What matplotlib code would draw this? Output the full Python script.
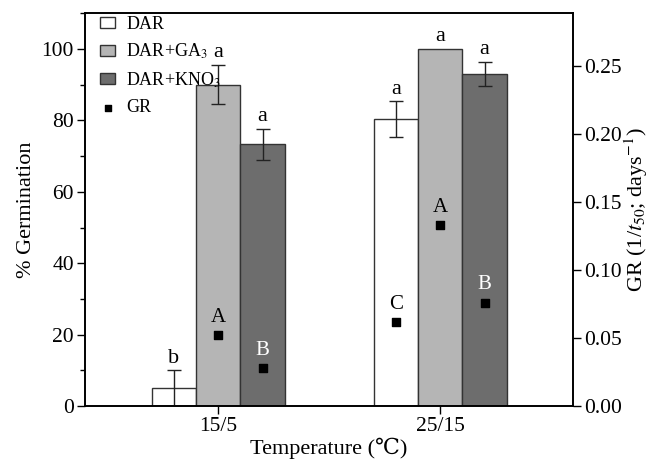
import numpy as np
import matplotlib.pyplot as plt
from matplotlib.ticker import MultipleLocator

plt.rcParams['font.family'] = ['Liberation Serif', 'DejaVu Serif']
plt.rcParams['mathtext.fontset'] = 'stix'

temps = ['15/5', '25/15']
treatments = ['DAR', 'DAR+GA$_3$', 'DAR+KNO$_3$']
germ = [[5, 80.3], [90, 100], [73.3, 93]]
germ_err = [[5, 5], [5.5, 0], [4.3, 3.4]]
germ_letters = [['b', 'a'], ['a', 'a'], ['a', 'a']]
gr = [[np.nan, 0.062], [0.052, 0.133], [0.028, 0.076]]
gr_letters = [['', 'C'], ['A', 'A'], ['B', 'B']]
gr_letter_colors = ['black', 'black', 'white']

colors = ['white', '#b5b5b5', '#6d6d6d']
x = np.arange(1, len(temps) + 1)
w = 0.2
offsets = [-w, 0, w]

fig = plt.figure(figsize=(6.59, 4.69), dpi=100)
ax = fig.add_axes([0.129, 0.134, 0.741, 0.838])
ax2 = ax.twinx()

for i in range(3):
    xs = x + offsets[i]
    ax.bar(xs, germ[i], w, color=colors[i], edgecolor='#333333', linewidth=1,
           label=treatments[i], zorder=2)
    errs = np.array(germ_err[i])
    m = errs > 0
    ax.errorbar(xs[m], np.array(germ[i])[m], yerr=errs[m], fmt='none',
                ecolor='#222222', elinewidth=1, capsize=5, capthick=1, zorder=3)
    for j in range(len(temps)):
        ax.text(xs[j], germ[i][j] + germ_err[i][j] + 0.8, germ_letters[i][j],
                ha='center', va='bottom', fontsize=16)
        if gr_letters[i][j]:
            ax2.text(xs[j], gr[i][j] + 0.006, gr_letters[i][j], ha='center',
                     va='bottom', fontsize=15, color=gr_letter_colors[i])
    ax2.scatter(xs, gr[i], marker='s', s=28, color='black', zorder=4,
                label='GR' if i == 0 else None)

ax.set_xlim(0.4, 2.6)
ax.set_ylim(0, 110)
ax2.set_ylim(0, 0.2885)
ax.set_xticks(x)
ax.set_xticklabels(temps)
ax.yaxis.set_major_locator(MultipleLocator(20))
ax.yaxis.set_minor_locator(MultipleLocator(10))
ax2.yaxis.set_major_locator(MultipleLocator(0.05))
ax2.yaxis.set_major_formatter(plt.FormatStrFormatter('%.2f'))

ax.tick_params(axis='both', which='major', direction='out', length=6, width=1,
               labelsize=15.5, pad=2)
ax.tick_params(axis='y', which='minor', direction='out', length=3.5, width=1)
ax2.tick_params(axis='y', which='major', direction='out', length=6, width=1,
                labelsize=15.5, pad=2)
for a in (ax, ax2):
    for s in a.spines.values():
        s.set_linewidth(1.2)

ax.set_xlabel('Temperature (℃)', fontsize=16, labelpad=1)
ax.set_ylabel('% Germination', fontsize=16, labelpad=4)
ax2.set_ylabel('GR (1/$t_{50}$; days$^{-1}$)', fontsize=16, labelpad=0)

h1, l1 = ax.get_legend_handles_labels()
h2, l2 = ax2.get_legend_handles_labels()
ax.legend(h1 + h2, l1 + l2, loc='upper left', bbox_to_anchor=(0.025, 1.0),
          frameon=False, fontsize=13, handlelength=0.85, handleheight=0.55,
          labelspacing=0.5, borderaxespad=0.0, borderpad=0.15,
          handletextpad=0.6, markerscale=0.75)

plt.savefig('out.png', dpi=100)
